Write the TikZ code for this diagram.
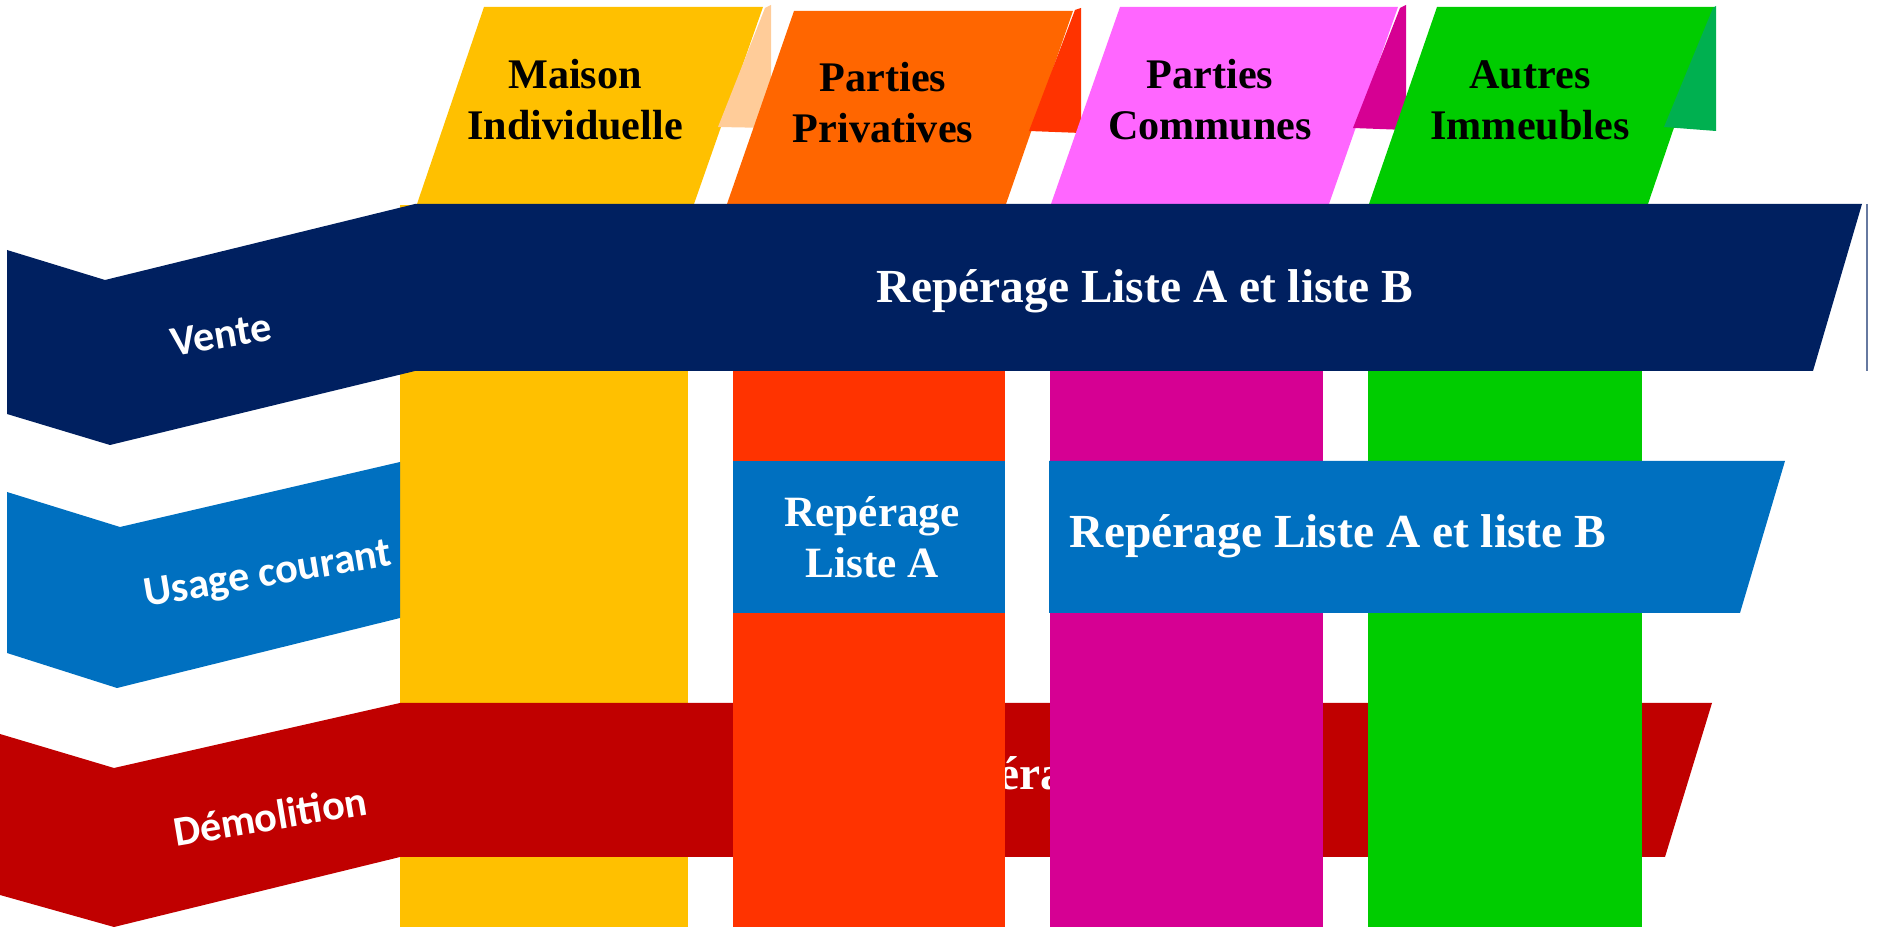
\documentclass[tikz,border=0pt]{standalone}
\usepackage{fontspec}
\setmainfont{Liberation Serif}
\newfontfamily\ribbonfont{Carlito}
\usepackage{tikz}
\definecolor{navyband}{HTML}{002060}
\definecolor{blueband}{HTML}{0070C0}
\definecolor{redband}{HTML}{C00000}
\definecolor{maisoncol}{HTML}{FFC000}
\definecolor{maisonfold}{HTML}{FFCC99}
\definecolor{privtab}{HTML}{FF6600}
\definecolor{privcol}{HTML}{FF3300}
\definecolor{commtab}{HTML}{FF66FF}
\definecolor{commcol}{HTML}{D60093}
\definecolor{autrescol}{HTML}{00CC00}
\definecolor{autresfold}{HTML}{00B050}
\tikzset{
  tabtext/.style={align=center, text=black, font=\bfseries\fontsize{12}{14.5}\selectfont},
  bartext/.style={anchor=base, text=white, font=\bfseries\fontsize{13.5}{16}\selectfont},
  ribbontext/.style={rotate=9.5, text=white, font=\ribbonfont\bfseries\fontsize{12}{14}\selectfont}
}

\begin{document}
\begin{tikzpicture}[x=1cm, y=-1cm]
				%%%%% START %%%%%
				\useasboundingbox (0, 0) rectangle (18.78, 9.27);
				
				% tabs with folded corners
				\fill[maisoncol] (4.84, 0.07) -- (7.63, 0.07) -- (6.94, 2.04) -- (4.17, 2.04) -- cycle;
				\fill[maisonfold] (7.65, 0.08) -- (7.71, 0.05) -- (7.71, 1.28) -- (7.18, 1.27) -- cycle;
				\fill[privtab] (7.94, 0.11) -- (10.73, 0.11) -- (10.06, 2.04) -- (7.27, 2.04) -- cycle;
				\fill[privcol] (10.75, 0.10) -- (10.81, 0.08) -- (10.81, 1.33) -- (10.29, 1.31) -- cycle;
				\fill[commtab] (11.20, 0.07) -- (13.98, 0.07) -- (13.29, 2.04) -- (10.51, 2.04) -- cycle;
				\fill[commcol] (14.00, 0.08) -- (14.06, 0.05) -- (14.06, 1.30) -- (13.53, 1.28) -- cycle;
				\fill[autrescol] (14.37, 0.07) -- (17.15, 0.07) -- (16.48, 2.04) -- (13.69, 2.04) -- cycle;
				\fill[autresfold] (17.13, 0.08) -- (17.16, 0.06) -- (17.16, 1.31) -- (16.64, 1.27) -- cycle;
				
				\node[tabtext] (maison) at (5.75, 1.00) {Maison\\Individuelle};
				\node[tabtext] (privatives) at (8.83, 1.03) {Parties\\Privatives};
				\node[tabtext] (communes) at (12.10, 1.00) {Parties\\Communes};
				\node[tabtext] (autres) at (15.30, 1.00) {Autres\\Immeubles};
				
				% demolition band lies over the first column only
				\fill[maisoncol] (4.00, 2.05) rectangle (6.88, 9.27);
				\fill[redband] (0, 7.34) -- (1.14, 7.68) -- (4.00, 7.03) -- (17.12, 7.03) -- (16.65, 8.57)
				  -- (4.00, 8.57) -- (1.14, 9.27) -- (0, 8.95) -- cycle;
				\node[bartext, anchor=base west, inner sep=0pt] (demoRep) at (9.16, 7.90) {Repérage Liste C};
				\node[ribbontext] (demolition) at (2.70, 8.16) {Démolition};
				
				\fill[privcol] (7.33, 2.05) rectangle (10.05, 9.27);
				\fill[commcol] (10.50, 2.05) rectangle (13.23, 9.27);
				\fill[autrescol] (13.68, 2.05) rectangle (16.42, 9.27);
				
				% vente
				\fill[navyband] (0.07, 2.50) -- (1.05, 2.80) -- (4.15, 2.04) -- (18.62, 2.04) -- (18.13, 3.71)
				  -- (4.15, 3.71) -- (1.10, 4.45) -- (0.07, 4.14) -- cycle;
				\draw[navyband!60, line width=0.4pt] (18.67, 2.04) -- (18.67, 3.71);
				\node[bartext] (venteRep) at (11.45, 3.03) {Repérage Liste A et liste B};
				\node[ribbontext] (vente) at (2.21, 3.35) {Vente};
				
				% usage courant
				\fill[blueband] (0.07, 4.92) -- (1.20, 5.27) -- (4.00, 4.62) -- (4.00, 6.18) -- (1.17, 6.88)
				  -- (0.07, 6.53) -- cycle;
				\fill[blueband] (7.33, 4.61) rectangle (10.05, 6.13);
				\fill[blueband] (10.49, 4.61) -- (17.85, 4.61) -- (17.40, 6.13) -- (10.49, 6.13) -- cycle;
				\node[ribbontext] (usage) at (2.68, 5.76) {Usage courant};
				\node[align=center, text=white, font=\bfseries\fontsize{12.3}{14.5}\selectfont] (usageRepA)
				  at (8.72, 5.37) {Repérage\\Liste A};
				\node[bartext] (usageRepAB) at (13.38, 5.48) {Repérage Liste A et liste B};
				%%%%% END %%%%%
\end{tikzpicture}
\end{document}
